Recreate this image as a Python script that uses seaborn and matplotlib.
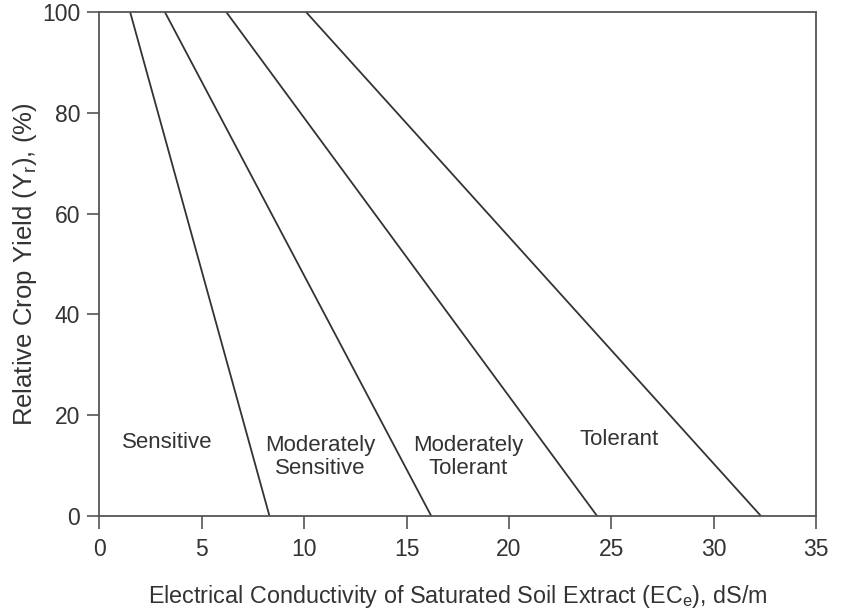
import matplotlib
matplotlib.use("Agg")
import matplotlib.pyplot as plt
import seaborn as sns
import pandas as pd

# Data: salinity tolerance lines (EC at 100% yield and at 0% yield)
categories = ["Sensitive", "Moderately Sensitive", "Moderately Tolerant", "Tolerant"]
ec_at_100 = [1.5, 3.2, 6.2, 10.1]
ec_at_0 = [8.3, 16.2, 24.3, 32.3]
yield_top = 100
yield_bottom = 0

label_texts = ["Sensitive", "Moderately\nSensitive", "Moderately\nTolerant", "Tolerant"]
label_x = [3.3, 10.8, 18.0, 25.4]
label_y = [14.6, 11.7, 11.7, 15.1]

x_ticks = [0, 5, 10, 15, 20, 25, 30, 35]
y_ticks = [0, 20, 40, 60, 80, 100]

rows = []
for c, a, b in zip(categories, ec_at_100, ec_at_0):
    rows.append({"cat": c, "ec": a, "yr": yield_top})
    rows.append({"cat": c, "ec": b, "yr": yield_bottom})
df = pd.DataFrame(rows)

sns.set_theme(style="ticks")
plt.rcParams["font.family"] = ["Liberation Sans", "DejaVu Sans"]
plt.rcParams["mathtext.fontset"] = "custom"
plt.rcParams["mathtext.rm"] = "Liberation Sans"

ink = "#333333"
fig = plt.figure(figsize=(8.46, 6.12), dpi=100)
ax = fig.add_axes([0.1176, 0.1573, 0.9645 - 0.1176, 0.980 - 0.1573])

sns.lineplot(data=df, x="ec", y="yr", units="cat", estimator=None,
             color=ink, linewidth=1.3, ax=ax, legend=False)

for t, x, y in zip(label_texts, label_x, label_y):
    ax.text(x, y, t, ha="center", va="center", fontsize=16, color=ink,
            linespacing=1.1)

ax.set_xlim(0, 35)
ax.set_ylim(0, 100)
ax.set_xticks(x_ticks)
ax.set_yticks(y_ticks)
ax.set_xticklabels([str(v) for v in x_ticks])
ax.set_yticklabels([str(v) for v in y_ticks])
ax.tick_params(axis="both", direction="out", length=9, width=1.2, color="#555555",
               labelsize=16.5, labelcolor=ink)
ax.tick_params(axis="x", pad=7)
ax.tick_params(axis="y", pad=5)
for s in ax.spines.values():
    s.set_color("#555555")
    s.set_linewidth(1.3)

ax.set_xlabel(r"Electrical Conductivity of Saturated Soil Extract (EC$_\mathregular{e}$), dS/m",
              fontsize=16.8, color=ink, labelpad=16)
ax.set_ylabel(r"Relative Crop Yield (Y$_\mathregular{r}$), (%)",
              fontsize=18.5, color=ink, labelpad=2)

fig.savefig("out.png", dpi=100, facecolor="white")
